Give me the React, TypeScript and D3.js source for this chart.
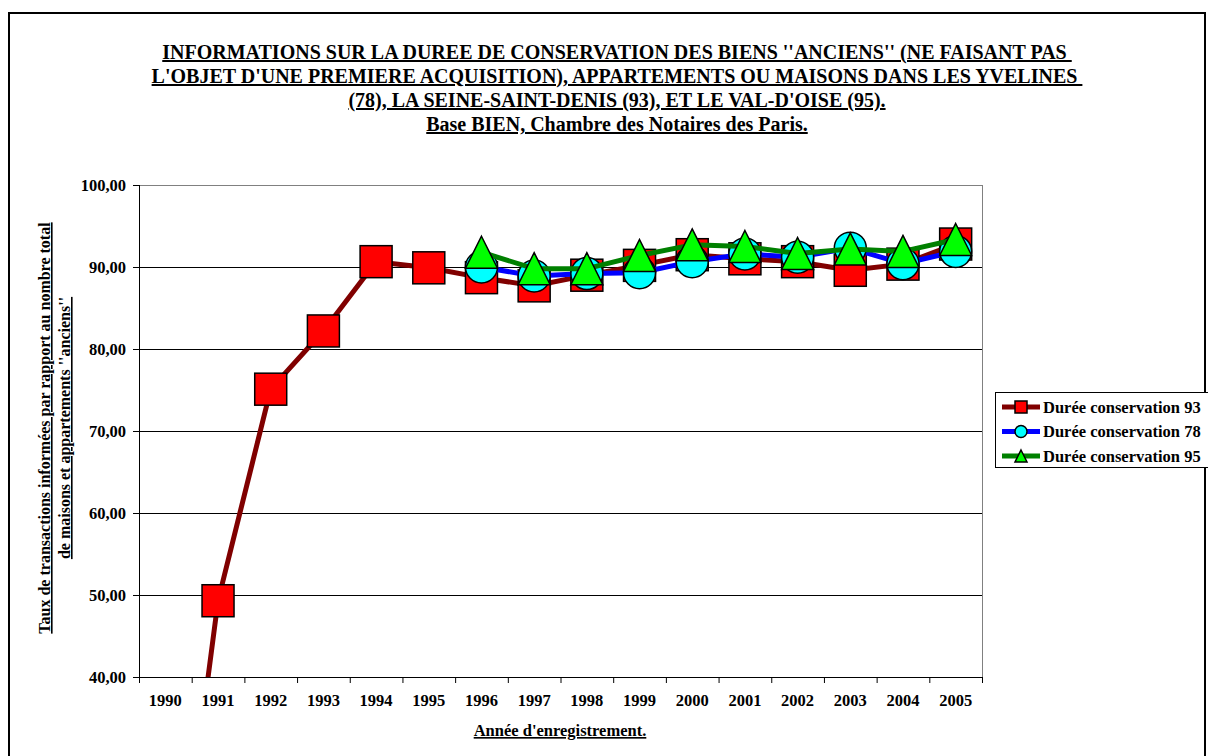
import React from "react";
import * as d3 from "d3";

const years = ["1990","1991","1992","1993","1994","1995","1996","1997","1998","1999","2000","2001","2002","2003","2004","2005"];
const years93 = years;
const dur93 = [0, 49.3, 75.1, 82.2, 90.65, 89.9, 88.7, 87.7, 89.0, 90.2, 91.5, 91.0, 90.65, 89.6, 90.35, 92.8];
const years78 = years.slice(6);
const dur78 = [90.0, 88.9, 89.2, 89.3, 90.65, 91.6, 91.2, 92.3, 90.4, 91.9];
const years95 = years.slice(6);
const dur95 = [91.8, 89.8, 89.8, 91.4, 92.7, 92.5, 91.65, 92.2, 91.9, 93.35];
const yTicks = [40, 50, 60, 70, 80, 90, 100];
const titleLines = [
  "INFORMATIONS SUR LA DUREE DE CONSERVATION DES BIENS ''ANCIENS'' (NE FAISANT PAS ",
  "L'OBJET D'UNE PREMIERE ACQUISITION), APPARTEMENTS OU MAISONS DANS LES YVELINES ",
  "(78), LA SEINE-SAINT-DENIS (93), ET LE VAL-D'OISE (95).",
  "Base BIEN, Chambre des Notaires des Paris.",
];
const yTitleLines = [
  "Taux de transactions informées par rapport au nombre total",
  "de maisons et appartements ''anciens''",
];
const xTitle = "Année d'enregistrement.";
const seriesNames = ["Durée conservation 93", "Durée conservation 78", "Durée conservation 95"];

const FONT = "'Liberation Serif', 'Times New Roman', serif";

type Series = { name: string; xs: string[]; ys: number[]; line: string; fill: string; shape: "square" | "circle" | "triangle" };

const series: Series[] = [
  { name: seriesNames[0], xs: years93, ys: dur93, line: "#800000", fill: "#FF0000", shape: "square" },
  { name: seriesNames[1], xs: years78, ys: dur78, line: "#0000FF", fill: "#00FFFF", shape: "circle" },
  { name: seriesNames[2], xs: years95, ys: dur95, line: "#008000", fill: "#00FF00", shape: "triangle" },
];

function Marker({ shape, cx, cy, size, fill }: { shape: string; cx: number; cy: number; size: number; fill: string }) {
  const h = size / 2;
  if (shape === "square") {
    return <rect x={cx - h} y={cy - h} width={size} height={size} fill={fill} stroke="#000" strokeWidth={1.5} />;
  }
  if (shape === "circle") {
    return <circle cx={cx} cy={cy} r={h} fill={fill} stroke="#000" strokeWidth={1.5} />;
  }
  return (
    <path d={`M${cx},${cy - h}L${cx + h},${cy + h}L${cx - h},${cy + h}Z`} fill={fill} stroke="#000" strokeWidth={1.5} strokeLinejoin="miter" />
  );
}

export default function App() {
  const W = 1208, H = 756;
  const left = 139, right = 982, top = 185, bottom = 677;
  const x = d3.scaleBand<string>().domain(years).range([left, right]);
  const y = d3.scaleLinear().domain([40, 100]).range([bottom, top]);
  const fmt = (v: number) => d3.format(".2f")(v).replace(".", ",");
  const cx = (k: string) => (x(k) as number) + x.bandwidth() / 2;

  const line = d3.line<[string, number]>().x((d) => cx(d[0])).y((d) => y(d[1]));
  const fs = 16.5;

  return (
    <div style={{ position: "fixed", left: 0, top: 0, width: W, height: H, overflow: "hidden", background: "#fff" }}>
      <svg width={W} height={H} style={{ display: "block" }} fontFamily={FONT}>
        <defs>
          <clipPath id="plotClip">
            <rect x={left} y={top} width={right - left} height={bottom - top} />
          </clipPath>
        </defs>
        <rect x={0} y={0} width={W} height={H} fill="#fff" />
        <rect x={9} y={13} width={1196} height={770} fill="none" stroke="#000" strokeWidth={2} />

        {/* Title */}
        {titleLines.map((t, i) => (
          <text key={i} x={617} y={59 + i * 24} textAnchor="middle" fontSize={20} fontWeight="bold"
            style={{ textDecoration: "underline", whiteSpace: "pre" }} fill="#000">{t}</text>
        ))}

        {/* gridlines */}
        {yTicks.filter((v) => v > 40 && v < 100).map((v) => (
          <line key={v} x1={left} x2={right} y1={y(v) + 0.5} y2={y(v) + 0.5} stroke="#000" strokeWidth={1} />
        ))}
        {/* plot border top/right */}
        <line x1={left} x2={right} y1={top + 0.5} y2={top + 0.5} stroke="#808080" strokeWidth={1} />
        <line x1={right + 0.5} x2={right + 0.5} y1={top} y2={bottom} stroke="#808080" strokeWidth={1} />

        {/* axes */}
        <line x1={left + 0.5} x2={left + 0.5} y1={top} y2={bottom} stroke="#000" strokeWidth={1} />
        <line x1={left} x2={right + 1} y1={bottom + 0.5} y2={bottom + 0.5} stroke="#000" strokeWidth={1} />
        {yTicks.map((v) => (
          <g key={v}>
            <line x1={left - 6} x2={left} y1={y(v) + 0.5} y2={y(v) + 0.5} stroke="#000" />
            <text x={left - 13} y={y(v) + 5.5} textAnchor="end" fontSize={fs} fontWeight="bold">{fmt(v)}</text>
          </g>
        ))}
        {years.map((k, i) => (
          <g key={k}>
            <line x1={(x(k) as number) + 0.5} x2={(x(k) as number) + 0.5} y1={bottom} y2={bottom + 6} stroke="#000" />
            {i === years.length - 1 && (
              <line x1={right + 0.5} x2={right + 0.5} y1={bottom} y2={bottom + 6} stroke="#000" />
            )}
            <text x={cx(k)} y={706} textAnchor="middle" fontSize={fs} fontWeight="bold">{k}</text>
          </g>
        ))}

        {/* axis titles */}
        <text x={560} y={736} textAnchor="middle" fontSize={fs} fontWeight="bold" style={{ textDecoration: "underline" }}>{xTitle}</text>
        {yTitleLines.map((t, i) => (
          <text key={i} transform={`translate(${50 + i * 20},428) rotate(-90)`} textAnchor="middle" fontSize={16} fontWeight="bold"
            style={{ textDecoration: "underline" }}>{t}</text>
        ))}

        {/* series */}
        <g clipPath="url(#plotClip)">
          {series.map((s) => {
            const pts: [string, number][] = s.xs.map((k, i) => [k, s.ys[i]]);
            return (
              <g key={s.name}>
                <path d={line(pts) || ""} fill="none" stroke={s.line} strokeWidth={5} strokeLinejoin="round" />
                {pts.filter((p) => p[1] >= 40).map((p) => (
                  <Marker key={p[0]} shape={s.shape} cx={cx(p[0])} cy={y(p[1])} size={32} fill={s.fill} />
                ))}
              </g>
            );
          })}
        </g>

        {/* legend */}
        <rect x={995.5} y={392.5} width={214} height={75} fill="#fff" stroke="#000" strokeWidth={1} />
        {series.map((s, i) => {
          const ly = 407 + i * 24.5;
          return (
            <g key={s.name}>
              <line x1={1002} x2={1040} y1={ly} y2={ly} stroke={s.line} strokeWidth={5} />
              <Marker shape={s.shape} cx={1021} cy={ly} size={12} fill={s.fill} />
              <text x={1043} y={ly + 5.5} fontSize={fs} fontWeight="bold">{s.name}</text>
            </g>
          );
        })}
      </svg>
    </div>
  );
}
